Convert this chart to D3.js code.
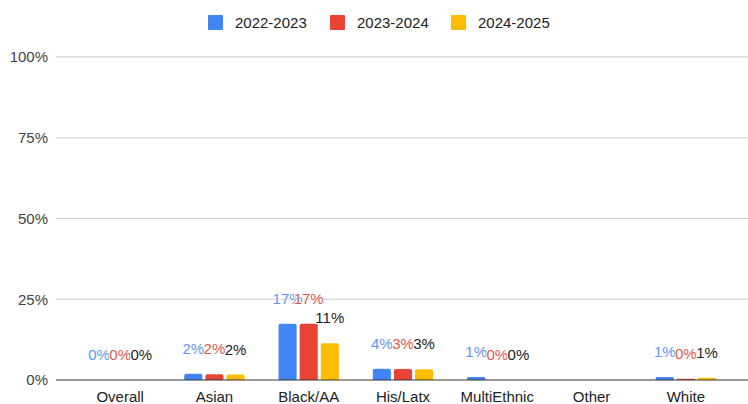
<!DOCTYPE html>
<html>
<head>
<meta charset="utf-8">
<script src="https://cdn.jsdelivr.net/npm/d3@7"></script>
<style>
  body { margin: 0; background: #fff; }
  text { font-family: "Liberation Sans", Arial, sans-serif; }
</style>
</head>
<body>
<svg id="chart"></svg>
<script>
const categories = ['Overall', 'Asian', 'Black/AA', 'His/Latx', 'MultiEthnic', 'Other', 'White'];
const seriesNames = ['2022-2023', '2023-2024', '2024-2025'];
const y2022 = [0, 1.9, 17.4, 3.5, 0.9, null, 0.9];
const y2023 = [0, 1.8, 17.4, 3.4, 0, null, 0.4];
const y2024 = [0, 1.7, 11.4, 3.3, 0, null, 0.7];
const yTicks = [0, 25, 50, 75, 100];

const seriesValues = [y2022, y2023, y2024];
const barColors = ['#4285F4', '#EA4335', '#FBBC04'];
const labelColors = ['#5b95f0', '#e2574c', '#222222'];

const width = 748, height = 404;
const svg = d3.select('#chart')
  .attr('width', width)
  .attr('height', height);

// scales
const y = d3.scaleLinear().domain([0, 100]).range([380, 57]);

const x0 = d3.scaleBand()
  .domain(categories)
  .range([73, 733])
  .paddingInner(0.36)
  .paddingOuter(0.18);

const x1 = d3.scaleBand()
  .domain(seriesNames)
  .range([0, x0.bandwidth()])
  .paddingInner(0.143);

// gridlines
svg.append('g')
  .selectAll('line')
  .data(yTicks.filter(t => t > 0))
  .enter()
  .append('line')
  .attr('x1', 56)
  .attr('x2', 748)
  .attr('y1', d => y(d))
  .attr('y2', d => y(d))
  .attr('stroke', '#cccccc')
  .attr('stroke-width', 1);

// y-axis labels
svg.append('g')
  .selectAll('text')
  .data(yTicks)
  .enter()
  .append('text')
  .attr('x', 48)
  .attr('y', d => y(d))
  .attr('dy', '0.35em')
  .attr('text-anchor', 'end')
  .attr('font-size', 15)
  .attr('fill', '#444')
  .text(d => d + '%');

// bar data
const rows = [];
categories.forEach((c, i) => {
  seriesNames.forEach((s, j) => {
    const v = seriesValues[j][i];
    if (v !== null) rows.push({ cat: c, series: s, j, v });
  });
});

// bars
svg.append('g')
  .selectAll('path')
  .data(rows.filter(d => d.v > 0))
  .enter()
  .append('path')
  .attr('fill', d => barColors[d.j])
  .attr('d', d => {
    const bx = x0(d.cat) + x1(d.series);
    const bw = x1.bandwidth();
    const top = y(d.v);
    const h = y(0) - top;
    const r = Math.min(2, h / 2);
    return `M${bx},${y(0)} V${top + r} Q${bx},${top} ${bx + r},${top} H${bx + bw - r} Q${bx + bw},${top} ${bx + bw},${top + r} V${y(0)} Z`;
  });

// baseline
svg.append('line')
  .attr('x1', 56)
  .attr('x2', 748)
  .attr('y1', y(0))
  .attr('y2', y(0))
  .attr('stroke', '#333')
  .attr('stroke-width', 1);

// value labels
svg.append('g')
  .selectAll('text')
  .data(rows)
  .enter()
  .append('text')
  .attr('x', d => x0(d.cat) + x1(d.series) + x1.bandwidth() / 2)
  .attr('y', d => y(d.v) - 20)
  .attr('text-anchor', 'middle')
  .attr('font-size', 15)
  .attr('fill', d => labelColors[d.j])
  .attr('stroke', '#fff')
  .attr('stroke-width', 2)
  .attr('paint-order', 'stroke')
  .text(d => Math.round(d.v) + '%');

// x-axis labels
svg.append('g')
  .selectAll('text')
  .data(categories)
  .enter()
  .append('text')
  .attr('x', d => x0(d) + x0.bandwidth() / 2)
  .attr('y', 402)
  .attr('text-anchor', 'middle')
  .attr('font-size', 15)
  .attr('fill', '#222')
  .text(d => d);

// legend
const legendX = [208, 330, 451];
const legend = svg.append('g')
  .selectAll('g')
  .data(seriesNames)
  .enter()
  .append('g')
  .attr('transform', (d, i) => `translate(${legendX[i]},15)`);

legend.append('rect')
  .attr('width', 15)
  .attr('height', 15)
  .attr('rx', 1)
  .attr('fill', (d, i) => barColors[i]);

legend.append('text')
  .attr('x', 27)
  .attr('y', 7.5)
  .attr('dy', '0.35em')
  .attr('font-size', 15)
  .attr('fill', '#222')
  .text(d => d);
</script>
</body>
</html>
